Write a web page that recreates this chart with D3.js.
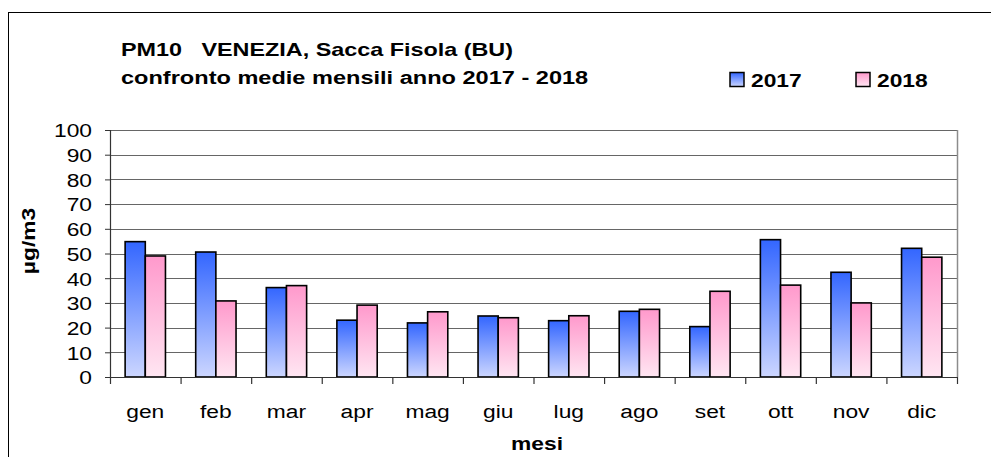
<!DOCTYPE html>
<html>
<head>
<meta charset="utf-8">
<script src="https://cdn.jsdelivr.net/npm/d3@7"></script>
<style>
  body { margin: 0; background: #fff; }
  svg { display: block; font-family: "Liberation Sans", Arial, sans-serif; }
</style>
</head>
<body>
<div id="chart"></div>
<script>
// monthly means PM10, Venezia Sacca Fisola
const months = ['gen', 'feb', 'mar', 'apr', 'mag', 'giu', 'lug', 'ago', 'set', 'ott', 'nov', 'dic'];
const series = ['2017', '2018'];
const values2017 = [54.8, 50.6, 36.2, 23.0, 21.9, 24.7, 22.8, 26.6, 20.4, 55.6, 42.4, 52.1];
const values2018 = [49.0, 30.8, 37.0, 29.1, 26.4, 24.0, 24.8, 27.4, 34.7, 37.2, 30.0, 48.5];
const yTicks = [0, 10, 20, 30, 40, 50, 60, 70, 80, 90, 100];

const width = 991, height = 457;
const margin = { top: 130, right: 34, bottom: 80, left: 110 };
const plotW = width - margin.left - margin.right;
const plotH = height - margin.top - margin.bottom;
const FS = '19px';
const SX = 1.2; // text in the original is drawn wider than normal

const svg = d3.select('#chart')
    .append('svg')
    .attr('width', width)
    .attr('height', height);

// widen text along its baseline, keeping its anchor point
function stretch(sel, rot, sx) {
    sel.each(function() {
        const t = d3.select(this);
        const x = +t.attr('x') || 0, y = +t.attr('y') || 0;
        t.attr('x', 0).attr('y', 0)
            .attr('transform', `translate(${x},${y})${rot ? ` rotate(${rot})` : ''} scale(${sx || SX},1)`);
    });
}

// gradients for bars
const defs = svg.append('defs');
const grads = [
    { id: 'g2017', top: '#3366ff', bottom: '#ccd6ff' },
    { id: 'g2018', top: '#ff99cc', bottom: '#ffe6f2' }
];
grads.forEach(g => {
    const lg = defs.append('linearGradient')
        .attr('id', g.id)
        .attr('x1', 0).attr('y1', 0).attr('x2', 0).attr('y2', 1);
    lg.append('stop').attr('offset', '0%').attr('stop-color', g.top);
    lg.append('stop').attr('offset', '100%').attr('stop-color', g.bottom);
});

// outer frame (cropped on right / bottom)
svg.append('rect')
    .attr('x', 8.5).attr('y', 12.5)
    .attr('width', 1000).attr('height', 500)
    .attr('fill', 'none')
    .attr('stroke', '#000')
    .attr('stroke-width', 1);

// titles
svg.append('text')
    .attr('x', 121).attr('y', 56)
    .style('font-size', FS).style('font-weight', 'bold')
    .attr('xml:space', 'preserve')
    .text('PM10   VENEZIA, Sacca Fisola (BU)')
    .call(stretch, 0, 1.23);
svg.append('text')
    .attr('x', 121).attr('y', 84)
    .style('font-size', FS).style('font-weight', 'bold')
    .text('confronto medie mensili anno 2017 - 2018')
    .call(stretch, 0, 1.24);

const g = svg.append('g').attr('transform', `translate(${margin.left},${margin.top})`);

const x0 = d3.scaleBand().domain(months).range([0, plotW]).paddingInner(0).paddingOuter(0);
const x1 = d3.scaleBand().domain(series).range([0, x0.bandwidth() * 0.5714]);
const groupOffset = (x0.bandwidth() - x1.range()[1]) / 2;
const y = d3.scaleLinear().domain([0, 100]).range([plotH, 0]);

// gridlines
g.append('g')
    .selectAll('line')
    .data(yTicks.filter(d => d > 0))
    .join('line')
    .attr('x1', 0).attr('x2', plotW)
    .attr('y1', d => Math.round(y(d)) + 0.5).attr('y2', d => Math.round(y(d)) + 0.5)
    .attr('stroke', '#666')
    .attr('stroke-width', 1.1);

// plot area right border
g.append('line')
    .attr('x1', plotW + 0.5).attr('x2', plotW + 0.5)
    .attr('y1', 0).attr('y2', plotH)
    .attr('stroke', '#8c8c8c').attr('stroke-width', 1.5);

// y axis
const yAxis = g.append('g')
    .call(d3.axisLeft(y).tickValues(yTicks).tickSize(5))
    .call(a => a.select('.domain').attr('stroke', '#333').attr('stroke-width', 1.2));
yAxis.selectAll('line').attr('stroke', '#333');
yAxis.selectAll('text')
    .style('font-size', FS).attr('fill', '#000').attr('font-family', null)
    .attr('x', -18).attr('dy', '0.36em')
    .call(stretch);

// bars
const data = months.map((m, i) => ({ month: m, vals: [values2017[i], values2018[i]] }));
g.append('g')
    .selectAll('g')
    .data(data)
    .join('g')
    .attr('transform', d => `translate(${x0(d.month) + groupOffset},0)`)
    .selectAll('rect')
    .data(d => d.vals.map((v, j) => ({ key: series[j], v })))
    .join('rect')
    .attr('x', d => x1(d.key))
    .attr('y', d => y(d.v))
    .attr('width', x1.bandwidth())
    .attr('height', d => plotH - y(d.v))
    .attr('fill', d => `url(#g${d.key})`)
    .attr('stroke', '#000')
    .attr('stroke-width', 1.6);

// x axis
const xAxis = g.append('g')
    .attr('transform', `translate(0,${plotH})`)
    .call(d3.axisBottom(x0).tickSize(0));
xAxis.select('.domain').attr('stroke', '#333').attr('stroke-width', 1.2);
xAxis.selectAll('text')
    .style('font-size', FS).attr('fill', '#000').attr('font-family', null)
    .attr('y', 41).attr('dy', 0)
    .call(stretch);

// category separator ticks
g.append('g')
    .selectAll('line')
    .data(d3.range(months.length + 1))
    .join('line')
    .attr('x1', i => i * x0.step() + 0.5).attr('x2', i => i * x0.step() + 0.5)
    .attr('y1', plotH).attr('y2', plotH + 7)
    .attr('stroke', '#333').attr('stroke-width', 1.2);

// axis titles
svg.append('text')
    .attr('x', 537)
    .attr('y', 450)
    .attr('text-anchor', 'middle')
    .style('font-size', FS).style('font-weight', 'bold')
    .text('mesi')
    .call(stretch);
svg.append('text')
    .attr('x', 35).attr('y', 241)
    .attr('text-anchor', 'middle')
    .style('font-size', FS).style('font-weight', 'bold')
    .text('µg/m3')
    .call(stretch, -90);

// legend
const legend = svg.append('g');
const legendPos = [730, 856];
series.forEach((s, i) => {
    legend.append('rect')
        .attr('x', legendPos[i]).attr('y', 72.5)
        .attr('width', 14).attr('height', 14)
        .attr('fill', `url(#g${s})`)
        .attr('stroke', '#000').attr('stroke-width', 1.5);
    legend.append('text')
        .attr('x', legendPos[i] + 21).attr('y', 87)
        .style('font-size', FS).style('font-weight', 'bold')
        .text(s)
        .call(stretch);
});
</script>
</body>
</html>
